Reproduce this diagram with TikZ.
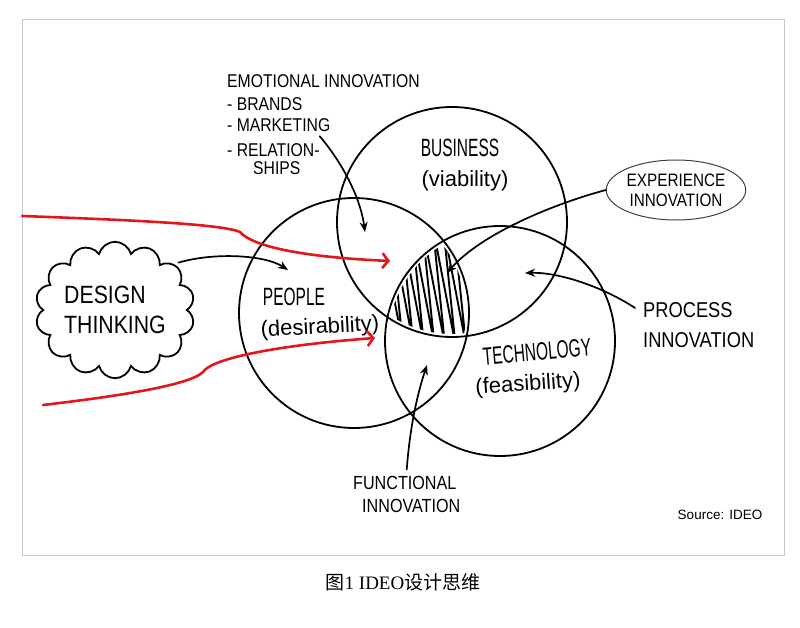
\documentclass[tikz,border=0pt]{standalone}
\usepackage{fontspec}
\usepackage{tikz}
\usetikzlibrary{arrows.meta,shapes.geometric,shapes.symbols}
\setsansfont{Liberation Sans}
\newfontfamily\hand[FakeStretch=0.62]{Liberation Sans}
\newfontfamily\handw[FakeStretch=0.85]{Liberation Sans}
\newfontfamily\handlc{Liberation Sans}
\newfontfamily\cjk{Noto Sans CJK SC}
\newfontfamily\capserif{Liberation Serif}
\definecolor{marker}{RGB}{228,22,28}
\definecolor{framegray}{RGB}{200,200,200}

\begin{document}
\begin{tikzpicture}[x=1pt,y=-1pt,>={Stealth[length=10pt,width=8pt]},line cap=round,
	venn/.style={circle,draw,line width=1.8pt,minimum size=230pt,inner sep=0pt},
	lbl/.style={inner sep=0pt,font=\hand\fontsize{25}{25}\selectfont},
	sub/.style={inner sep=0pt,font=\handlc\fontsize{22}{22}\selectfont},
	note/.style={inner sep=0pt,align=left,font=\handw\fontsize{18.5}{20}\selectfont},
	pointer/.style={->,line width=1.7pt},
	flow/.style={-{Straight Barb[length=6pt,width=15pt,line width=2.6pt]},line width=2.6pt,marker}]
	\useasboundingbox (0,0) rectangle (800,628);
	\draw[framegray,line width=1pt] (22,20) rectangle (784,555);
	% three circles
	\node[venn] (people) at (354,313) {};
	\node[venn] (business) at (452,222) {};
	\node[venn] (tech) at (500,341) {};
	\begin{scope}
		\clip (people.center) circle[radius=112];
		\clip (business.center) circle[radius=112];
		\clip (tech.center) circle[radius=112];
		\draw[line width=1.9pt] (380,225) \foreach \k in {0,...,9} {-- (403+\k*10.5,345) -- (390.5+\k*10.5,225)};
	\end{scope}
	\node[lbl] (bus) at (460,148) {BUSINESS};
	\node[sub] (busq) at (465,181) {(viability)};
	\node[lbl] (peo) at (294,297) {PEOPLE};
	\node[sub,rotate=3] (peoq) at (320,328) {(desirability)};
	\node[lbl,rotate=5] (tec) at (537,352) {TECHNOLOGY};
	\node[sub,rotate=4] (tecq) at (528,385) {(feasibility)};
	% labels round the diagram
	\foreach \txt/\ypos/\nm in {EMOTIONAL INNOVATION/81/emo,- BRANDS/104/brands,- MARKETING/125/mkt,- RELATION-/150/rel}
	{\node[note,anchor=west] (\nm) at (227,\ypos) {\txt};}
	\node[note,anchor=west] (ships) at (253,168) {SHIPS};
	\node[cloud,draw,line width=1.8pt,cloud puffs=14,aspect=1.25,minimum width=156pt,minimum height=125pt,
		inner sep=0pt,align=left,font=\handw\fontsize{25}{30}\selectfont] (design) at (115,310) {DESIGN\\THINKING};
	\node[ellipse,draw,line width=1pt,black!75,text=black,minimum width=127pt,minimum height=60pt,inner sep=0pt,
		align=center,font=\handw\fontsize{18}{20}\selectfont] (expe) at (676,190) {EXPERIENCE\\INNOVATION};
	\node[note,anchor=west,font=\handw\fontsize{21.5}{30}\selectfont] (proc) at (643,325) {PROCESS\\INNOVATION};
	\node[note,anchor=west,font=\handw\fontsize{19}{23}\selectfont] (func) at (353,494) {FUNCTIONAL\\\hspace{9pt}INNOVATION};
	\node[inner sep=0pt,font=\sffamily\fontsize{13.5}{14}\selectfont] (src) at (720,515) {Source: IDEO};
	\node[inner sep=0pt,font=\fontsize{19}{20}\selectfont] (cap) at (403,582) {\cjk 图\capserif 1 IDEO\cjk 设计思维};
	% arrows
	\coordinate (emotip) at (365,232);
	\coordinate (exptip) at (447,273);
	\coordinate (proctip) at (525,273);
	\coordinate (functip) at (427,365);
	\coordinate (peotip) at (288,270);
	\draw[pointer] ([yshift=7pt]rel.north east) .. controls (340,160) and (360,195) .. (emotip);
	\draw[pointer] (expe.west) .. controls (550,205) and (480,235) .. (exptip);
	\draw[pointer] ([xshift=-8pt,yshift=17pt]proc.west) .. controls (605,288) and (560,272) .. (proctip);
	\draw[pointer] ([yshift=6pt]func.north) .. controls (410,425) and (418,392) .. (functip);
	\draw[pointer] ([xshift=8pt]design.north east) .. controls (215,252) and (265,255) .. (peotip);
	% red flows
	\coordinate (inA) at (22,216);
	\coordinate (tipA) at (390,261);
	\coordinate (inB) at (43,405);
	\coordinate (tipB) at (375,338);
	\draw[flow] (inA) .. controls (130,220) and (222,224) .. (240,232) .. controls (252,246) and (300,257) .. (tipA);
	\draw[flow] (inB) .. controls (120,396) and (190,385) .. (203,372) .. controls (212,358) and (280,345) .. (tipB);
\end{tikzpicture}
\end{document}
